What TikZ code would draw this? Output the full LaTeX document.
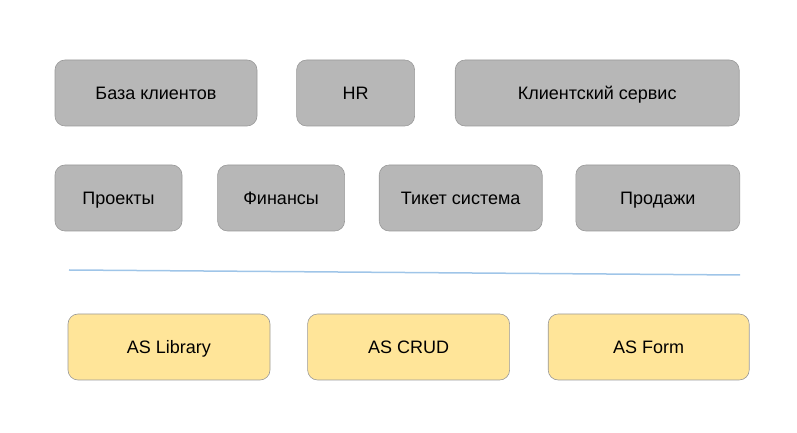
\documentclass[tikz,border=0pt]{standalone}
\usepackage{fontspec}
\setmainfont{Liberation Sans}
\usetikzlibrary{positioning}
\definecolor{modgray}{RGB}{183,183,183}
\definecolor{modedge}{RGB}{153,153,153}
\definecolor{coreyellow}{RGB}{255,229,153}
\definecolor{splitblue}{RGB}{159,197,232}

\begin{document}
\begin{tikzpicture}[
    x=1pt, y=1pt,
    node distance=39pt,
    module/.style={rectangle, draw=modedge, line width=0.6pt, fill=modgray, rounded corners=10pt, minimum height=66pt, inner sep=0pt, text height=13pt, text depth=0pt, font=\fontsize{18}{21}\selectfont},
    core/.style={module, fill=coreyellow}
]
\useasboundingbox (0,0) rectangle (797,433);

% business modules
\node[module, minimum width=202pt] (clients) at (156,340) {База клиентов};
\node[module, minimum width=118pt, right=39pt of clients] (hr) {HR};
\node[module, minimum width=284pt, right=40pt of hr] (service) {Клиентский сервис};

\node[module, minimum width=127pt] (projects) at (118.5,235) {Проекты};
\node[module, minimum width=127pt, right=35pt of projects] (finance) {Финансы};
\node[module, minimum width=163pt, right=34pt of finance] (tickets) {Тикет система};
\node[module, minimum width=164pt, right=33pt of tickets] (sales) {Продажи};

% separator
\coordinate (sepL) at (69,163);
\coordinate (sepR) at (740,158);
\draw[splitblue, line width=1.5pt] (sepL) -- (sepR);

% core
\node[core, minimum width=202pt] (library) at (169,86) {AS Library};
\node[core, minimum width=202pt, right=37pt of library] (crud) {AS CRUD};
\node[core, minimum width=201pt, right=38pt of crud] (form) {AS Form};

\end{tikzpicture}
\end{document}
